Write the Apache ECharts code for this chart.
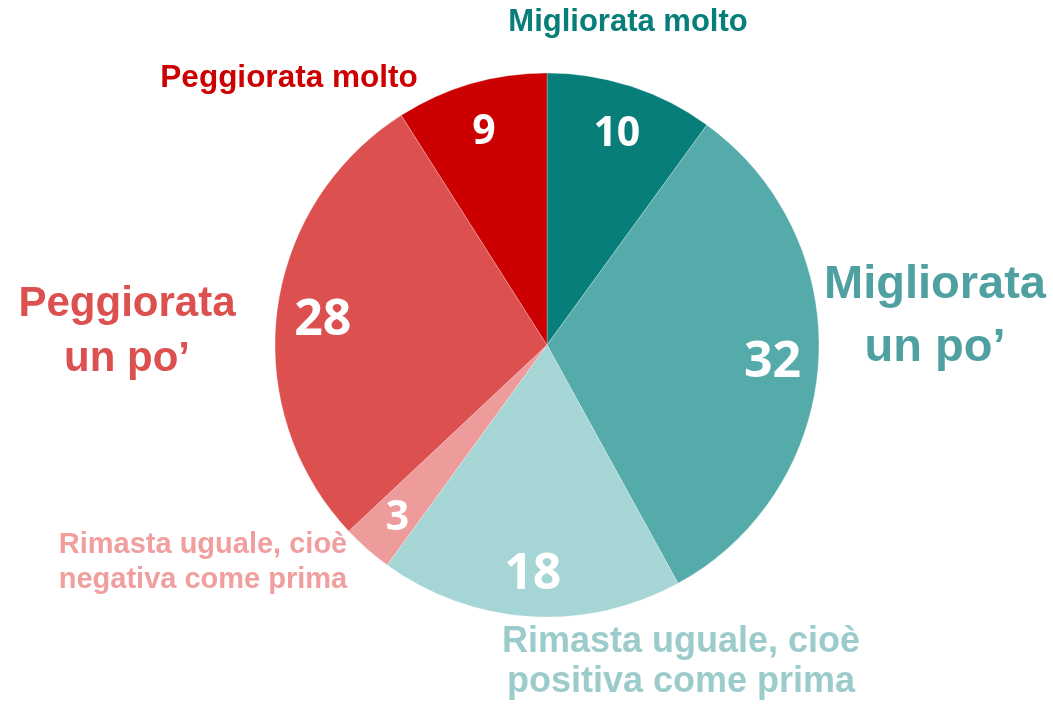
<!DOCTYPE html>
<html>
<head>
<meta charset="utf-8">
<script src="https://cdn.jsdelivr.net/npm/echarts@6/dist/echarts.min.js"></script>
<style>
html,body{margin:0;padding:0;background:#fff;}
#main{width:1053px;height:711px;}
</style>
</head>
<body>
<div id="main"></div>
<script>
// ---- data ----
const categories = ['Migliorata molto', 'Migliorata un po’', 'Rimasta uguale, cioè positiva come prima', 'Rimasta uguale, cioè negativa come prima', 'Peggiorata un po’', 'Peggiorata molto'];
const values = [10, 32, 18, 3, 28, 9];
const nameLabels = ['Migliorata molto', 'Migliorata\nun po’', 'Rimasta uguale, cioè\npositiva come prima', 'Rimasta uguale, cioè\nnegativa come prima', 'Peggiorata\nun po’', 'Peggiorata molto'];

// ---- styles / layout ----
const sliceColors = ['#077E7A', '#55AAAA', '#A5D5D5', '#EE9B9B', '#DC5050', '#CC0000'];
const nameColors = ['#077E7A', '#4FA1A1', '#9CCBCB', '#F09E9E', '#DC5050', '#CC0000'];
const nameFontSizes = [31, 47, 36, 29, 42, 31.5];
const nameLineHeights = [34, 63, 40, 35, 55, 34];
const namePositions = [[628, 22], [935, 317], [681, 662], [203, 562], [127, 332], [289, 78]];
const valueFontSizes = [41, 50, 50, 41, 50, 41];

const CENTER = [547, 345];
const R = 272;

const chart = echarts.init(document.getElementById('main'), null, {renderer: 'canvas'});

const mainData = categories.map((c, i) => ({
  name: c,
  value: values[i],
  itemStyle: {color: sliceColors[i]},
  label: {
    formatter: nameLabels[i],
    color: nameColors[i],
    fontSize: nameFontSizes[i],
    lineHeight: nameLineHeights[i]
  }
}));

const valueData = categories.map((c, i) => ({
  name: c,
  value: values[i],
  label: {fontSize: valueFontSizes[i]}
}));

chart.setOption({
  animation: false,
  backgroundColor: '#ffffff',
  series: [
    {
      type: 'pie',
      center: CENTER,
      radius: [0, R],
      startAngle: 90,
      clockwise: true,
      avoidLabelOverlap: false,
      silent: true,
      data: mainData,
      itemStyle: {borderWidth: 0.6, borderColor: 'rgba(255,255,255,0.45)'},
      label: {
        show: true,
        position: 'outside',
        fontFamily: '"Liberation Sans", Arial, sans-serif',
        fontWeight: 'bold',
        align: 'center'
      },
      labelLine: {show: false},
      labelLayout: function (params) {
        const p = namePositions[params.dataIndex];
        return {x: p[0], y: p[1], align: 'center', verticalAlign: 'middle'};
      },
      emphasis: {disabled: true}
    },
    {
      type: 'pie',
      center: CENTER,
      radius: [R * 0.64, R],
      startAngle: 90,
      clockwise: true,
      avoidLabelOverlap: false,
      silent: true,
      data: valueData,
      itemStyle: {color: 'rgba(0,0,0,0)', borderWidth: 0},
      label: {
        show: true,
        position: 'inside',
        formatter: '{c}',
        color: '#ffffff',
        fontFamily: '"Open Sans", sans-serif',
        fontWeight: 'bold',
        offset: [0, 4]
      },
      labelLine: {show: false},
      emphasis: {disabled: true}
    }
  ]
});
</script>
</body>
</html>
